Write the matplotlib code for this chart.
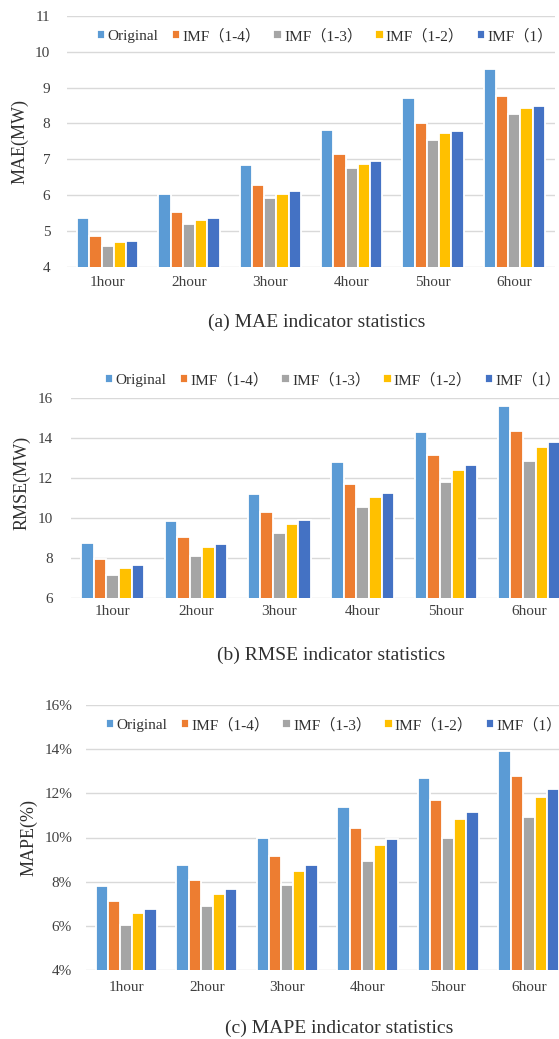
import numpy as np
import matplotlib
matplotlib.use("Agg")
import matplotlib.pyplot as plt

plt.rcParams['font.family'] = ['Liberation Serif', 'Noto Sans CJK SC', 'DejaVu Sans']

hours = ["1hour", "2hour", "3hour", "4hour", "5hour", "6hour"]
series_names = ["Original", "IMF（1-4）", "IMF（1-3）", "IMF（1-2）", "IMF（1）"]
colors = ["#5B9BD5", "#ED7D31", "#A5A5A5", "#FFC000", "#4472C4"]

mae_original = [5.35, 6.02, 6.83, 7.81, 8.72, 9.53]
mae_imf_1_4 = [4.87, 5.52, 6.28, 7.15, 8.02, 8.76]
mae_imf_1_3 = [4.58, 5.20, 5.93, 6.76, 7.55, 8.26]
mae_imf_1_2 = [4.68, 5.31, 6.04, 6.88, 7.73, 8.42]
mae_imf_1 = [4.73, 5.36, 6.10, 6.95, 7.80, 8.50]

rmse_original = [8.76, 9.84, 11.18, 12.78, 14.26, 15.58]
rmse_imf_1_4 = [7.96, 9.04, 10.29, 11.70, 13.14, 14.34]
rmse_imf_1_3 = [7.13, 8.11, 9.26, 10.53, 11.78, 12.86]
rmse_imf_1_2 = [7.51, 8.52, 9.70, 11.03, 12.40, 13.51]
rmse_imf_1 = [7.66, 8.69, 9.89, 11.25, 12.63, 13.77]

mape_original = [7.82, 8.77, 9.97, 11.38, 12.71, 13.91]
mape_imf_1_4 = [7.11, 8.08, 9.17, 10.44, 11.71, 12.77]
mape_imf_1_3 = [6.06, 6.89, 7.85, 8.95, 10.00, 10.93]
mape_imf_1_2 = [6.57, 7.46, 8.47, 9.65, 10.83, 11.82]
mape_imf_1 = [6.77, 7.68, 8.74, 9.94, 11.14, 12.18]

W, H = 559, 1039
fig = plt.figure(figsize=(W / 100, H / 100), dpi=100)


def rect(left, right, top, bottom):
    return [left / W, 1 - bottom / H, (right - left) / W, (bottom - top) / H]


def draw_panel(box, series, ylim, yticks, ylabel, ylabel_xy, legend_xy, caption, caption_xy,
               ytick_pad, xtick_pad, percent=False):
    ax = fig.add_axes(rect(*box))
    x = np.arange(len(hours))
    pitch = 0.151
    for i, (name, vals) in enumerate(zip(series_names, series)):
        ax.bar(x + (i - 2) * pitch, vals, width=pitch, color=colors[i],
               edgecolor="white", linewidth=1.3, label=name, zorder=3)
    ax.set_xlim(-0.5, len(hours) - 0.5)
    ax.set_ylim(*ylim)
    ax.set_yticks(yticks)
    if percent:
        ax.set_yticklabels([f"{t}%" for t in yticks])
    ax.set_xticks(x)
    ax.set_xticklabels(hours)
    ax.yaxis.grid(True, color="#D9D9D9", linewidth=1.0, zorder=0)
    ax.set_axisbelow(True)
    for s in ax.spines.values():
        s.set_visible(False)
    ax.tick_params(axis="y", length=0, pad=ytick_pad, labelsize=11, labelcolor="#404040")
    ax.tick_params(axis="x", length=0, pad=xtick_pad, labelsize=11, labelcolor="#404040")
    for lbl in ax.get_yticklabels():
        lbl.set_clip_on(False)
    fig.text(ylabel_xy[0] / W, 1 - ylabel_xy[1] / H, ylabel, rotation=90,
             ha="center", va="center", fontsize=13, color="#303030")
    ax.legend(loc="center left", bbox_to_anchor=(legend_xy[0] / W, 1 - legend_xy[1] / H),
              bbox_transform=fig.transFigure, ncol=5, frameon=False, fontsize=11,
              handlelength=0.55, handleheight=0.55, handletextpad=0.15,
              columnspacing=0.85, borderpad=0, borderaxespad=0, labelcolor="#303030")
    fig.text(caption_xy[0] / W, 1 - caption_xy[1] / H, caption, ha="center", va="center",
             fontsize=14, color="#303030")
    return ax


draw_panel((67, 555, 16, 266.7),
           [mae_original, mae_imf_1_4, mae_imf_1_3, mae_imf_1_2, mae_imf_1],
           (4, 11), list(range(4, 12)), "MAE(MW)", (20, 142), (97, 36),
           "(a) MAE indicator statistics", (317, 322), 12, 6.5)

draw_panel((71, 571, 397.7, 597.7),
           [rmse_original, rmse_imf_1_4, rmse_imf_1_3, rmse_imf_1_2, rmse_imf_1],
           (6, 16), list(range(6, 17, 2)), "RMSE(MW)", (22, 483), (105, 380),
           "(b) RMSE indicator statistics", (331, 655), 13, 5)

draw_panel((86, 569, 705, 970),
           [mape_original, mape_imf_1_4, mape_imf_1_3, mape_imf_1_2, mape_imf_1],
           (4, 16), list(range(4, 17, 2)), "MAPE(%)", (29, 838), (106, 725),
           "(c) MAPE indicator statistics", (339, 1028), 10, 8, percent=True)

fig.savefig("out.png", dpi=100)
